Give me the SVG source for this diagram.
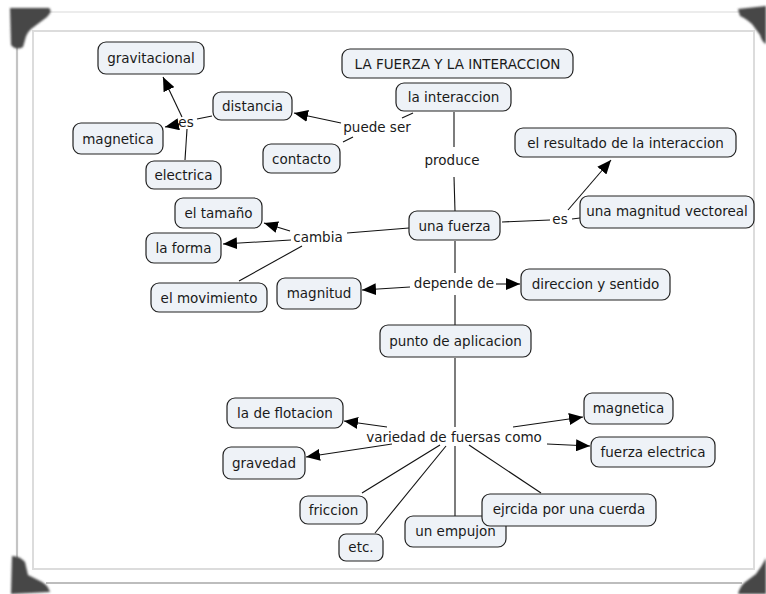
<svg xmlns="http://www.w3.org/2000/svg" width="766" height="594" viewBox="0 0 766 594">
<style>
.n rect{fill:#eef2f7;stroke:#222;stroke-width:1.2}
text{font-family:"DejaVu Sans",Verdana,sans-serif;font-size:13.5px;fill:#1a1a1a;text-anchor:middle;dominant-baseline:central}
#connectors line{stroke:#111;stroke-width:1.1}
.a{marker-end:url(#ah)}
</style>
<defs>
<marker id="ah" markerUnits="userSpaceOnUse" markerWidth="16" markerHeight="12" refX="14" refY="6" orient="auto">
<path d="M0,0 L14,6 L0,12 Z" fill="#000"/>
</marker>
<filter id="bl" x="-20%" y="-20%" width="140%" height="140%"><feGaussianBlur stdDeviation="1.2"/></filter>
</defs>
<rect width="766" height="594" fill="#fff"/>
<g id="frame">
<line x1="30" y1="12" x2="742" y2="12" stroke="#ececec" stroke-width="2"/>
<line x1="17" y1="45" x2="17" y2="558" stroke="#c4c4c4" stroke-width="2.2"/>
<line x1="46" y1="583" x2="742" y2="583" stroke="#bdbdbd" stroke-width="2.2"/>
<rect x="33" y="31" width="721" height="538" fill="#fff" stroke="#dcdcdc" stroke-width="2"/>
<g fill="#474747" filter="url(#bl)">
<path d="M10,8 L49,8 Q53,11 47,17 L31,29 Q26,34 25,40 L23,47 Q16,51 11,45 Z"/>
<path d="M738,9 L766,6 L766,44 Q762,42 760,35 L752,24 Q745,18 740,16 Z"/>
<path d="M12,556 Q20,556 25,562 L28,575 L38,580 Q48,584 50,592 L11,594 Z"/>
<path d="M766,558 L766,594 L738,594 Q740,585 748,580 L756,574 Q762,566 766,558 Z"/>
</g>
</g>
<g id="connectors">
<line class="a" x1="182" y1="117" x2="163" y2="77"/>
<line class="a" x1="180" y1="124" x2="165" y2="127"/>
<line x1="212" y1="116" x2="197" y2="119"/>
<line x1="185" y1="160" x2="187" y2="129"/>
<line class="a" x1="341" y1="123" x2="294" y2="113"/>
<line x1="413" y1="113" x2="402" y2="118"/>
<line x1="353" y1="137" x2="343" y2="142"/>
<line x1="454" y1="112" x2="454" y2="147"/>
<line x1="454" y1="177" x2="455" y2="211"/>
<line x1="502" y1="222" x2="550" y2="220"/>
<line class="a" x1="568" y1="210" x2="611" y2="160"/>
<line x1="572" y1="219" x2="580" y2="218"/>
<line x1="409" y1="228" x2="347" y2="233"/>
<line class="a" x1="290" y1="231" x2="264" y2="223"/>
<line class="a" x1="291" y1="240" x2="223" y2="244"/>
<line x1="302" y1="246" x2="239" y2="281"/>
<line x1="455" y1="241" x2="455" y2="273"/>
<line class="a" x1="410" y1="287" x2="362" y2="290"/>
<line class="a" x1="496" y1="284" x2="520" y2="284"/>
<line x1="455" y1="295" x2="455" y2="325"/>
<line x1="455" y1="358" x2="455" y2="427"/>
<line class="a" x1="387" y1="427" x2="344" y2="421"/>
<line class="a" x1="392" y1="444" x2="306" y2="457"/>
<line class="a" x1="513" y1="427" x2="583" y2="417"/>
<line class="a" x1="547" y1="444" x2="590" y2="446"/>
<line x1="440" y1="445" x2="362" y2="493"/>
<line x1="446" y1="446" x2="375" y2="533"/>
<line x1="455" y1="446" x2="455" y2="516"/>
<line x1="469" y1="445" x2="541" y2="493"/>
</g>
<g id="labels">
<text x="186" y="122">es</text>
<text x="377" y="127">puede ser</text>
<text x="452" y="160">produce</text>
<text x="560" y="219">es</text>
<text x="318" y="237">cambia</text>
<text x="454" y="283">depende de</text>
<text x="454" y="437">variedad de fuersas como</text>
</g>
<g id="n-title" class="n"><rect x="342" y="49" width="231" height="29" rx="8"/><text x="457.5" y="63.5">LA FUERZA Y LA INTERACCION</text></g>
<g id="n-gravitacional" class="n"><rect x="98" y="42" width="106" height="32" rx="8"/><text x="151" y="58">gravitacional</text></g>
<g id="n-distancia" class="n"><rect x="213" y="92" width="79" height="28" rx="8"/><text x="252.5" y="106">distancia</text></g>
<g id="n-magnetica1" class="n"><rect x="73" y="123" width="90" height="31" rx="8"/><text x="118" y="138.5">magnetica</text></g>
<g id="n-electrica" class="n"><rect x="146" y="161" width="75" height="28" rx="8"/><text x="183.5" y="175">electrica</text></g>
<g id="n-contacto" class="n"><rect x="263" y="144" width="77" height="29" rx="8"/><text x="301.5" y="158.5">contacto</text></g>
<g id="n-interaccion" class="n"><rect x="396" y="83" width="115" height="28" rx="8"/><text x="453.5" y="97">la interaccion</text></g>
<g id="n-resultado" class="n"><rect x="515" y="128" width="221" height="29" rx="8"/><text x="625.5" y="142.5">el resultado de la interaccion</text></g>
<g id="n-fuerza" class="n"><rect x="409" y="211" width="91" height="29" rx="8"/><text x="454.5" y="225.5">una fuerza</text></g>
<g id="n-vectoreal" class="n"><rect x="580" y="196" width="174" height="32" rx="8"/><text x="667" y="211">una magnitud vectoreal</text></g>
<g id="n-tamano" class="n"><rect x="175" y="198" width="87" height="30" rx="8"/><text x="218.5" y="213">el tamaño</text></g>
<g id="n-forma" class="n"><rect x="146" y="233" width="75" height="30" rx="8"/><text x="183.5" y="248">la forma</text></g>
<g id="n-movimiento" class="n"><rect x="151" y="283" width="116" height="29" rx="8"/><text x="209" y="297.5">el movimiento</text></g>
<g id="n-magnitud" class="n"><rect x="277" y="278" width="84" height="31" rx="8"/><text x="319" y="293">magnitud</text></g>
<g id="n-direccion" class="n"><rect x="521" y="269" width="149" height="31" rx="8"/><text x="595.5" y="284">direccion y sentido</text></g>
<g id="n-punto" class="n"><rect x="380" y="325" width="151" height="32" rx="8"/><text x="455.5" y="340.5">punto de aplicacion</text></g>
<g id="n-flotacion" class="n"><rect x="227" y="398" width="116" height="30" rx="8"/><text x="285" y="412.5">la de flotacion</text></g>
<g id="n-gravedad" class="n"><rect x="223" y="447" width="82" height="32" rx="8"/><text x="264" y="462.5">gravedad</text></g>
<g id="n-friccion" class="n"><rect x="300" y="496" width="67" height="28" rx="8"/><text x="333.5" y="509.5">friccion</text></g>
<g id="n-etc" class="n"><rect x="339" y="534" width="44" height="27" rx="7"/><text x="361" y="547">etc.</text></g>
<g id="n-magnetica2" class="n"><rect x="584" y="393" width="89" height="31" rx="8"/><text x="628.5" y="407.5">magnetica</text></g>
<g id="n-electrica2" class="n"><rect x="591" y="437" width="124" height="30" rx="8"/><text x="653" y="451.5">fuerza electrica</text></g>
<g id="n-empujon" class="n"><rect x="405" y="516" width="101" height="31" rx="8"/><text x="455.5" y="531">un empujon</text></g>
<g id="n-cuerda" class="n"><rect x="482" y="494" width="174" height="32" rx="8"/><text x="569" y="508.5">ejrcida por una cuerda</text></g>
</svg>
